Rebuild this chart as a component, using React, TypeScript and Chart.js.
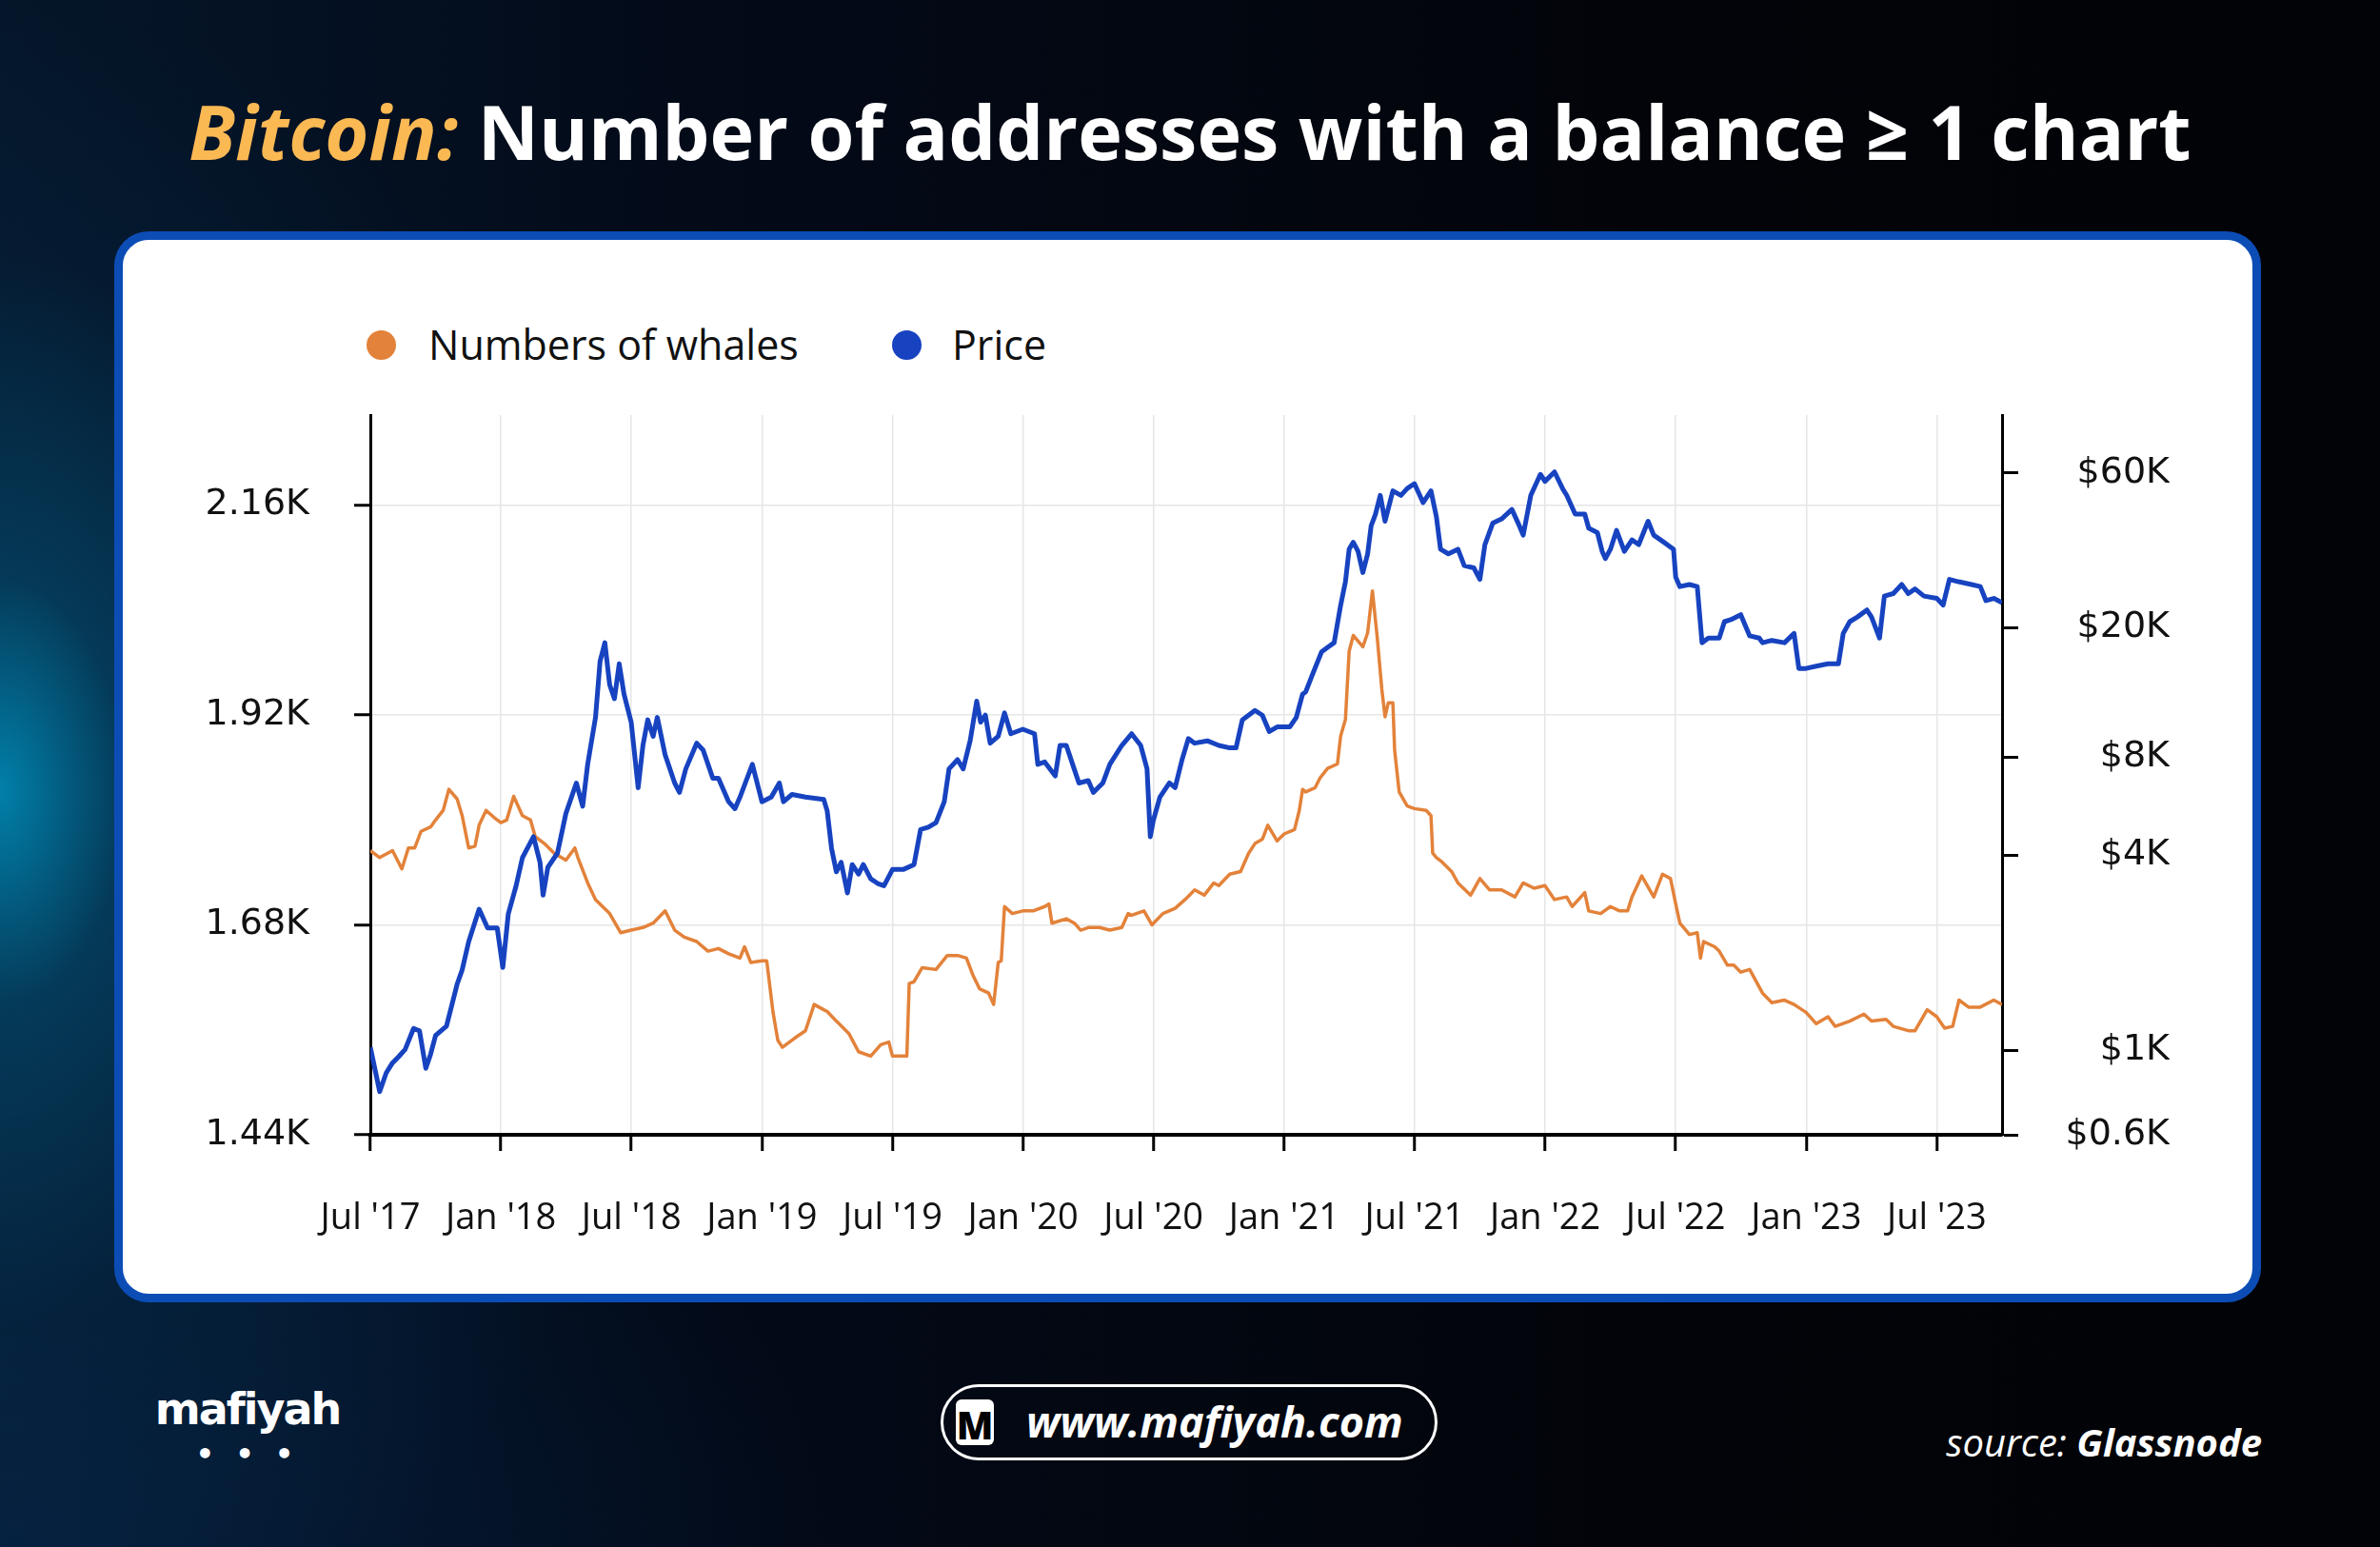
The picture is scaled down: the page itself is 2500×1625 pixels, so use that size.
import React, { useEffect, useRef } from 'react';
import { Chart, registerables } from 'chart.js';

Chart.register(...registerables);

// ---------- data ----------
// x values are months elapsed since 1 Jul 2017
const xTickMonths = [0, 6, 12, 18, 24, 30, 36, 42, 48, 54, 60, 66, 72];
const xTickLabels = ["Jul '17", "Jan '18", "Jul '18", "Jan '19", "Jul '19", "Jan '20", "Jul '20", "Jan '21", "Jul '21", "Jan '22", "Jul '22", "Jan '23", "Jul '23"];

const whaleTickValues = [1440, 1680, 1920, 2160];
const whaleTickLabels = ['1.44K', '1.68K', '1.92K', '2.16K'];

const priceTickValues = [550, 1000, 4000, 8000, 20000, 60000];
const priceTickLabels = ['$0.6K', '$1K', '$4K', '$8K', '$20K', '$60K'];

const whaleMonths = [
  0, 0.43, 1.02, 1.45, 1.75, 2.04, 2.33, 2.77, 3.0, 3.35, 3.61, 3.99, 4.22, 4.52, 4.81, 5.0, 5.32, 5.68, 6.0, 6.27,
  6.59, 6.99, 7.36, 7.58, 8.0, 8.45, 8.99, 9.4, 9.54, 9.99, 10.35, 11.0, 11.51, 11.99, 12.53, 13.0, 13.55, 13.99, 14.43, 15.0,
  15.52, 16.0, 16.47, 16.99, 17.2, 17.49, 18.0, 18.22, 18.51, 18.73, 18.94, 19.53, 20.0, 20.4, 20.84, 21.0, 21.42, 21.99, 22.44, 23.0,
  23.46, 23.83, 24.0, 24.49, 24.66, 24.77, 24.99, 25.36, 26.0, 26.52, 26.99, 27.4, 27.69, 28.0, 28.42, 28.65, 28.86, 29.0, 29.15, 29.51,
  29.99, 30.46, 31.0, 31.19, 31.33, 31.99, 32.36, 32.65, 33.0, 33.52, 33.99, 34.54, 34.83, 34.99, 35.56, 35.93, 36.0, 36.43, 36.99, 37.45,
  37.89, 38.33, 38.77, 39.0, 39.5, 40.0, 40.37, 40.66, 41.0, 41.25, 41.68, 42.0, 42.48, 42.7, 42.85, 42.99, 43.43, 43.65, 44.0, 44.45,
  44.6, 44.82, 44.99, 45.18, 45.62, 45.84, 46.06, 46.28, 46.49, 46.64, 46.79, 47.0, 47.08, 47.29, 47.66, 47.99, 48.53, 48.75, 48.83, 49.0,
  49.26, 49.7, 49.99, 50.57, 51.0, 51.45, 52.0, 52.61, 52.99, 53.49, 53.99, 54.43, 54.99, 55.24, 55.82, 56.0, 56.55, 57.0, 57.42, 57.79,
  57.99, 58.44, 58.99, 59.39, 59.76, 60.0, 60.19, 60.63, 60.99, 61.14, 61.28, 61.79, 62.0, 62.38, 62.67, 62.99, 63.4, 63.99, 64.42, 65.0,
  65.44, 65.99, 66.46, 67.0, 67.33, 68.0, 68.65, 69.0, 69.67, 70.0, 70.69, 71.0, 71.56, 72.0, 72.36, 72.73, 73.02, 73.46, 74.0, 74.62,
  75.0,
];
const whaleCounts = [
  1765, 1757, 1765, 1744, 1768, 1768, 1787, 1792, 1800, 1811, 1835, 1824, 1805, 1768, 1770, 1794, 1811, 1803, 1797, 1800,
  1827, 1805, 1800, 1781, 1773, 1762, 1754, 1768, 1757, 1728, 1709, 1693, 1671, 1674, 1677, 1682, 1696, 1674, 1666, 1661,
  1650, 1653, 1647, 1642, 1655, 1637, 1639, 1639, 1580, 1548, 1540, 1551, 1559, 1589, 1583, 1581, 1570, 1556, 1535, 1530,
  1543, 1546, 1530, 1530, 1530, 1613, 1615, 1631, 1629, 1645, 1645, 1642, 1623, 1607, 1602, 1589, 1637, 1639, 1701, 1693,
  1696, 1696, 1701, 1704, 1682, 1687, 1682, 1674, 1677, 1677, 1674, 1677, 1693, 1691, 1696, 1680, 1682, 1693, 1699, 1709,
  1720, 1714, 1728, 1725, 1738, 1741, 1762, 1773, 1778, 1794, 1776, 1784, 1789, 1811, 1835, 1832, 1837, 1848, 1859, 1864,
  1896, 1915, 1993, 2011, 1998, 2014, 2062, 2009, 1950, 1918, 1934, 1934, 1880, 1832, 1816, 1813, 1811, 1805, 1762, 1757,
  1752, 1741, 1728, 1714, 1733, 1720, 1720, 1712, 1728, 1722, 1725, 1709, 1712, 1701, 1717, 1696, 1693, 1701, 1696, 1696,
  1712, 1736, 1712, 1738, 1733, 1704, 1682, 1669, 1671, 1642, 1661, 1655, 1650, 1634, 1634, 1626, 1629, 1602, 1591, 1594,
  1589, 1580, 1567, 1575, 1564, 1570, 1578, 1570, 1572, 1564, 1559, 1559, 1583, 1575, 1562, 1564, 1594, 1586, 1586, 1594,
  1589,
];

const priceMonths = [
  0, 0.43, 0.73, 1.0, 1.31, 1.6, 1.99, 2.26, 2.55, 2.77, 3.0, 3.5, 3.99, 4.22, 4.52, 5.0, 5.39, 5.83, 6.09, 6.34,
  6.7, 6.99, 7.5, 7.8, 7.94, 8.16, 8.6, 8.99, 9.47, 9.76, 9.99, 10.35, 10.56, 10.78, 11.0, 11.22, 11.44, 11.66, 11.99, 12.31,
  12.53, 12.75, 13.0, 13.19, 13.55, 13.99, 14.21, 14.5, 15.0, 15.3, 15.74, 16.0, 16.47, 16.76, 16.99, 17.56, 18.0, 18.43, 18.8, 18.99,
  19.38, 20.0, 20.84, 21.0, 21.2, 21.42, 21.64, 21.93, 22.15, 22.44, 22.66, 23.0, 23.32, 23.61, 24.0, 24.49, 24.99, 25.29, 25.65, 26.0,
  26.38, 26.6, 26.99, 27.25, 27.57, 27.87, 28.05, 28.27, 28.49, 28.86, 29.15, 29.44, 29.99, 30.53, 30.68, 31.0, 31.48, 31.7, 31.99, 32.35,
  32.57, 33.0, 33.23, 33.67, 33.99, 34.54, 34.99, 35.41, 35.7, 35.85, 35.99, 36.29, 36.73, 36.99, 37.31, 37.6, 37.89, 38.47, 39.0, 39.5,
  39.79, 40.08, 40.66, 41.0, 41.32, 41.68, 42.0, 42.26, 42.56, 42.85, 42.99, 43.29, 43.72, 44.0, 44.3, 44.6, 44.82, 44.99, 45.18, 45.4,
  45.62, 45.84, 46.0, 46.2, 46.42, 46.64, 47.0, 47.37, 47.66, 47.99, 48.39, 48.75, 49.0, 49.19, 49.55, 49.99, 50.28, 50.72, 51.0, 51.23,
  51.59, 52.0, 52.47, 52.76, 52.99, 53.34, 53.78, 53.99, 54.43, 54.8, 54.99, 55.38, 55.82, 56.0, 56.4, 56.62, 56.77, 57.0, 57.28, 57.64,
  57.99, 58.3, 58.73, 58.99, 59.46, 59.9, 60.0, 60.19, 60.63, 60.99, 61.21, 61.5, 62.0, 62.24, 62.53, 62.99, 63.4, 63.84, 63.99, 64.42,
  65.0, 65.44, 65.66, 65.99, 66.46, 67.0, 67.48, 67.7, 68.0, 68.35, 68.79, 69.0, 69.37, 69.59, 70.0, 70.39, 70.69, 71.0, 71.41, 72.0,
  72.29, 72.58, 73.0, 73.6, 74.0, 74.26, 74.62, 75.0,
];
const priceUsd = [
  1023, 747, 853, 912, 958, 1007, 1169, 1149, 881, 973, 1112, 1188, 1600, 1770, 2160, 2722, 2384, 2384, 1800, 2630,
  3212, 3920, 4550, 3796, 3006, 3664, 4048, 5370, 6658, 5648, 7600, 10600, 15780, 18000, 13360, 12100, 15500, 12500, 10250, 6440,
  8690, 10420, 9270, 10600, 8130, 6658, 6230, 7360, 8830, 8400, 6890, 6890, 5830, 5550, 6025, 7600, 5830, 6025, 6658, 5830,
  6140, 6025, 5930, 5460, 4190, 3548, 3795, 3055, 3735, 3490, 3735, 3375, 3266, 3213, 3606, 3606, 3735, 4786, 4866, 5025,
  5830, 7360, 7855, 7360, 8980, 11890, 10250, 10770, 8830, 9270, 10940, 9440, 9750, 9440, 7600, 7730, 7000, 8690, 8690, 7360,
  6660, 6770, 6230, 6660, 7600, 8690, 9440, 8690, 7360, 4550, 5110, 6025, 6660, 6440, 7855, 9120, 8830, 8980, 8690, 8540,
  8540, 10420, 11140, 10770, 9590, 9910, 9910, 9910, 10600, 12500, 12700, 14280, 16860, 17420, 18000, 23500, 27740, 34930, 36700, 34400,
  29600, 33800, 41200, 44800, 51170, 42600, 52840, 51170, 53700, 55600, 48600, 52840, 44000, 34930, 33800, 34930, 31100, 30600, 28200, 36100,
  42000, 43300, 46300, 42000, 38600, 51170, 59400, 56500, 60400, 53700, 51170, 44800, 44800, 40550, 39300, 34400, 32700, 34930, 39900, 34400,
  37300, 36100, 42600, 38600, 36700, 34930, 28650, 26800, 27200, 26800, 18000, 18600, 18600, 20900, 21200, 21960, 18900, 18600, 18000, 18300,
  18000, 19230, 15000, 15000, 15250, 15500, 15500, 19230, 20900, 21600, 22700, 21600, 18600, 25050, 25500, 27200, 25500, 26350, 25050, 24650,
  23500, 28200, 27740, 27200, 26800, 24250, 24650, 23900,
];

const WHALE_COLOR = '#E3823A';
const PRICE_COLOR = '#1743C0';

function BtcChart() {
  const ref = useRef<HTMLCanvasElement | null>(null);
  useEffect(() => {
    if (!ref.current) return;
    const tickFontY = { family: '"DejaVu Sans", sans-serif', size: 38 };
    const chart = new Chart(ref.current, {
      type: 'line',
      data: {
        datasets: [
          {
            label: 'Numbers of whales',
            data: whaleMonths.map((m, i) => ({ x: m, y: whaleCounts[i] })),
            yAxisID: 'y',
            borderColor: WHALE_COLOR,
            backgroundColor: WHALE_COLOR,
            borderWidth: 3.5,
            pointRadius: 0,
            tension: 0,
            borderJoinStyle: 'round',
            order: 1,
          },
          {
            label: 'Price',
            data: priceMonths.map((m, i) => ({ x: m, y: priceUsd[i] })),
            yAxisID: 'y1',
            borderColor: PRICE_COLOR,
            backgroundColor: PRICE_COLOR,
            borderWidth: 5,
            pointRadius: 0,
            tension: 0,
            borderJoinStyle: 'round',
            order: 0,
          },
        ],
      },
      options: {
        animation: false,
        responsive: false,
        maintainAspectRatio: false,
        layout: { padding: { left: 84, right: 87, top: 106, bottom: 48 } },
        plugins: { legend: { display: false }, tooltip: { enabled: false } },
        scales: {
          x: {
            type: 'linear',
            min: 0,
            max: 75,
            afterBuildTicks: (axis: any) => {
              axis.ticks = xTickMonths.map((v) => ({ value: v }));
            },
            afterFit: (s: any) => {
              s.height = 120;
            },
            ticks: {
              autoSkip: false,
              maxRotation: 0,
              padding: 48,
              color: '#111',
              font: { family: '"Open Sans", sans-serif', size: 38 },
              callback: (v: any) => {
                const i = xTickMonths.indexOf(Number(v));
                return i >= 0 ? xTickLabels[i] : '';
              },
            },
            grid: { color: '#e6e6e6', lineWidth: 1.5, tickColor: '#000', tickWidth: 3, tickLength: 17 },
            border: { color: '#000', width: 4 },
          },
          y: {
            type: 'linear',
            position: 'left',
            min: 1440,
            max: 2263,
            afterBuildTicks: (axis: any) => {
              axis.ticks = whaleTickValues.map((v) => ({ value: v }));
            },
            afterFit: (s: any) => {
              s.width = 175;
            },
            ticks: {
              padding: 47,
              color: '#111',
              font: tickFontY,
              callback: (v: any) => {
                const i = whaleTickValues.indexOf(Number(v));
                return i >= 0 ? whaleTickLabels[i] : '';
              },
            },
            grid: { color: '#e6e6e6', lineWidth: 1.5, tickColor: '#000', tickWidth: 3, tickLength: 17 },
            border: { color: '#000', width: 3 },
          },
          y1: {
            type: 'logarithmic',
            position: 'right',
            min: 550,
            max: 90400,
            afterBuildTicks: (axis: any) => {
              axis.ticks = priceTickValues.map((v) => ({ value: v }));
            },
            afterFit: (s: any) => {
              s.width = 176;
            },
            ticks: {
              crossAlign: 'far',
              color: '#111',
              font: tickFontY,
              callback: (v: any) => {
                const i = priceTickValues.indexOf(Number(v));
                return i >= 0 ? priceTickLabels[i] : '';
              },
            },
            grid: { drawOnChartArea: false, tickColor: '#000', tickWidth: 3, tickLength: 17 },
            border: { color: '#000', width: 3 },
          },
        },
      },
    } as any);
    return () => chart.destroy();
  }, []);
  return (
    <canvas
      ref={ref}
      width={2236}
      height={1030}
      style={{ position: 'absolute', left: 130, top: 330, width: 2236, height: 1030 }}
    />
  );
}

export default function App() {
  const legendText: React.CSSProperties = {
    position: 'absolute',
    top: 332,
    height: 60,
    lineHeight: '60px',
    fontFamily: '"Open Sans", sans-serif',
    fontSize: 43,
    color: '#111',
    whiteSpace: 'nowrap',
  };
  const dot = (color: string, cx: number): React.CSSProperties => ({
    position: 'absolute',
    left: cx - 15.5,
    top: 362 - 15.5,
    width: 31,
    height: 31,
    borderRadius: '50%',
    background: color,
  });
  return (
    <div
      style={{
        position: 'fixed',
        left: 0,
        top: 0,
        width: 2500,
        height: 1625,
        overflow: 'hidden',
        background:
          'radial-gradient(ellipse 330px 560px at 0px 830px, rgba(0,150,195,0.8) 0%, rgba(4,80,115,0.5) 40%, rgba(3,30,55,0) 100%), radial-gradient(ellipse 700px 900px at 0px 900px, rgba(5,55,90,0.55) 0%, rgba(0,0,0,0) 100%), radial-gradient(ellipse 900px 500px at 0px 1625px, rgba(6,40,80,0.5) 0%, rgba(0,0,0,0) 100%), linear-gradient(90deg, #05162a 0%, #030a18 30%, #020409 70%, #020307 100%)',
        fontFamily: '"Open Sans", sans-serif',
      }}
    >
      {/* Title */}
      <div
        style={{
          position: 'absolute',
          left: 0,
          top: 88,
          width: 2500,
          textAlign: 'center',
          fontFamily: '"Open Sans", sans-serif',
          fontWeight: 700,
          fontSize: 79,
          lineHeight: '100px',
          color: '#ffffff',
          whiteSpace: 'nowrap',
        }}
      >
        <span style={{ color: '#FBB954', fontStyle: 'italic' }}>Bitcoin:</span> Number of addresses with a balance ≥ 1 chart
      </div>

      {/* Card */}
      <div
        style={{
          position: 'absolute',
          left: 120,
          top: 243,
          width: 2255,
          height: 1125,
          boxSizing: 'border-box',
          background: '#ffffff',
          border: '9px solid #0C4DB5',
          borderRadius: 36,
        }}
      />

      {/* Legend */}
      <div style={dot(WHALE_COLOR, 400)} />
      <div style={{ ...legendText, left: 450 }}>Numbers of whales</div>
      <div style={dot(PRICE_COLOR, 952)} />
      <div style={{ ...legendText, left: 1000 }}>Price</div>

      <BtcChart />

      {/* Footer: logo */}
      <div
        style={{
          position: 'absolute',
          left: 160,
          top: 1452,
          width: 200,
          textAlign: 'center',
          color: '#fff',
          fontFamily: '"DejaVu Sans", sans-serif',
          fontWeight: 700,
          fontSize: 46,
          lineHeight: '56px',
          letterSpacing: -2,
        }}
      >
        mafiyah
        <div style={{ fontSize: 30, lineHeight: '40px', letterSpacing: 6 }}>• • •</div>
      </div>

      {/* Footer: website pill */}
      <div
        style={{
          position: 'absolute',
          left: 988,
          top: 1454,
          width: 522,
          height: 80,
          boxSizing: 'border-box',
          border: '3px solid #ffffff',
          borderRadius: 40,
        }}
      >
        <div
          style={{
            position: 'absolute',
            left: 13,
            top: 13,
            width: 40,
            height: 48,
            background: '#fff',
            borderRadius: 6,
            color: '#000',
            fontWeight: 800,
            fontSize: 40,
            lineHeight: '54px',
            textAlign: 'center',
            fontFamily: '"Open Sans", sans-serif',
          }}
        >
          M
        </div>
        <div
          style={{
            position: 'absolute',
            left: 87,
            top: 0,
            height: 72,
            lineHeight: '72px',
            color: '#fff',
            fontStyle: 'italic',
            fontWeight: 700,
            fontSize: 45,
            whiteSpace: 'nowrap',
          }}
        >
          www.mafiyah.com
        </div>
      </div>

      {/* Footer: source */}
      <div
        style={{
          position: 'absolute',
          right: 2500 - 2376,
          top: 1488,
          height: 54,
          lineHeight: '54px',
          color: '#fff',
          fontStyle: 'italic',
          fontSize: 40,
          whiteSpace: 'nowrap',
        }}
      >
        source: <span style={{ fontWeight: 700 }}>Glassnode</span>
      </div>
    </div>
  );
}
